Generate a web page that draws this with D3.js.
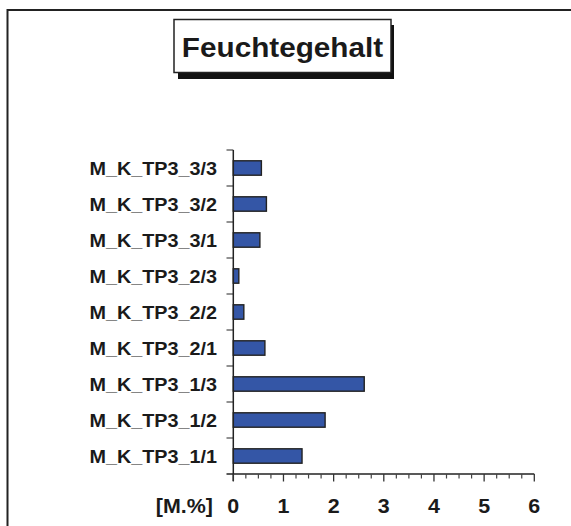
<!DOCTYPE html>
<html>
<head>
<meta charset="utf-8">
<script src="https://cdn.jsdelivr.net/npm/d3@7"></script>
<style>
  html, body { margin: 0; padding: 0; background: #fff; }
  svg { display: block; }
  text { font-family: "Liberation Sans", Arial, sans-serif; font-weight: bold; fill: #1a1a1a; }
</style>
</head>
<body>
<script>
const title = "Feuchtegehalt";
const unitLabel = "[M.%]";
const categories = ["M_K_TP3_3/3","M_K_TP3_3/2","M_K_TP3_3/1","M_K_TP3_2/3","M_K_TP3_2/2","M_K_TP3_2/1","M_K_TP3_1/3","M_K_TP3_1/2","M_K_TP3_1/1"];
const values = [0.56, 0.66, 0.53, 0.11, 0.21, 0.63, 2.61, 1.83, 1.37];
const xTicks = [0, 1, 2, 3, 4, 5, 6];
const xDomain = [0, 6];
const minorStep = 0.25;

const W = 571, H = 526;
const svg = d3.select("body").append("svg").attr("width", W).attr("height", H);

// outer frame
svg.append("path")
  .attr("d", `M7.5,${H+5} V10 H${W+5}`)
  .attr("fill", "none").attr("stroke", "#222").attr("stroke-width", 2);

// title box with shadow
svg.append("rect").attr("x", 178).attr("y", 25).attr("width", 216).attr("height", 54).attr("fill", "#111");
svg.append("rect").attr("x", 174).attr("y", 19.5).attr("width", 217).attr("height", 53)
  .attr("fill", "#fff").attr("stroke", "#222").attr("stroke-width", 1.5);
svg.append("text").attr("transform", "translate(282.5,56.5) scale(1.1,1)")
  .attr("text-anchor", "middle").attr("font-size", 27).text(title);

const x = d3.scaleLinear().domain(xDomain).range([233.3, 534.3]);
const y = d3.scaleBand().domain(categories).range([150, 474]).paddingInner(0.6).paddingOuter(0.3);

// bars
svg.append("g").selectAll("rect").data(categories).join("rect")
  .attr("x", x(0))
  .attr("y", d => y(d))
  .attr("width", (d, i) => x(values[i]) - x(0))
  .attr("height", y.bandwidth())
  .attr("fill", "#3456a6")
  .attr("stroke", "#222").attr("stroke-width", 1.4);

// category labels
svg.append("g").selectAll("text").data(categories).join("text")
  .attr("transform", d => `translate(217,${y(d) + y.bandwidth()/2 + 6.5}) scale(1.1,1)`)
  .attr("text-anchor", "end").attr("font-size", 18).text(d => d);

// y axis ticks at band boundaries
const step = y.step();
const bounds = d3.range(categories.length + 1).map(i => y.range()[0] + i * step);
svg.append("g").selectAll("line").data(bounds.slice(0, -1)).join("line")
  .attr("x1", 226.5).attr("x2", x(0)).attr("y1", d => d).attr("y2", d => d)
  .attr("stroke", "#555").attr("stroke-width", 1.3);
svg.append("line").attr("x1", x(0)).attr("x2", x(0)).attr("y1", 150).attr("y2", 481)
  .attr("stroke", "#222").attr("stroke-width", 1.5);

// x axis
const yAxis = 474;
svg.append("line").attr("x1", 226.5).attr("x2", x(6)).attr("y1", yAxis).attr("y2", yAxis)
  .attr("stroke", "#222").attr("stroke-width", 1.5);
const minor = d3.range(xDomain[0], xDomain[1] + 1e-9, minorStep).filter(v => Math.abs(v - Math.round(v)) > 1e-6);
svg.append("g").selectAll("line").data(minor).join("line")
  .attr("x1", d => x(d)).attr("x2", d => x(d)).attr("y1", yAxis).attr("y2", yAxis + 4.5)
  .attr("stroke", "#444").attr("stroke-width", 1.2);
svg.append("g").selectAll("line").data(xTicks).join("line")
  .attr("x1", d => x(d)).attr("x2", d => x(d)).attr("y1", yAxis).attr("y2", yAxis + 7.5)
  .attr("stroke", "#333").attr("stroke-width", 1.3);
svg.append("g").selectAll("text").data(xTicks).join("text")
  .attr("transform", d => `translate(${x(d)},512.5) scale(1.1,1)`)
  .attr("text-anchor", "middle").attr("font-size", 19.5).text(d => d);
svg.append("text").attr("transform", "translate(213,512.5) scale(1.1,1)")
  .attr("text-anchor", "end").attr("font-size", 19.5).text(unitLabel);
</script>
</body>
</html>
